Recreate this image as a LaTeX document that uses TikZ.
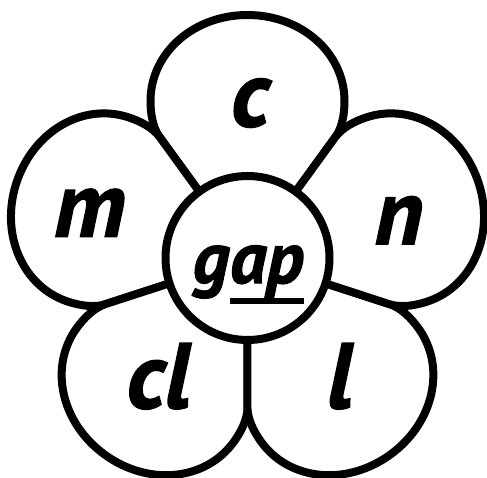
\documentclass[tikz,border=0pt]{standalone}
\usepackage{fontspec}
\setmainfont{PT Sans}[BoldItalicFeatures={FakeBold=1.6}]
\usetikzlibrary{positioning}

\begin{document}
\begin{tikzpicture}[x=1pt, y=1pt,
    petal/.style={draw=black, fill=white, line width=8pt, line join=round},
    hub/.style={circle, draw=black, fill=white, line width=8pt, minimum size=164pt, inner sep=0pt},
    letter/.style={inner sep=0pt, font=\fontsize{93}{93}\selectfont\bfseries\itshape},
    word/.style={inner sep=0pt, font=\fontsize{73}{73}\selectfont\bfseries\itshape},
    uline/.style={line width=6pt}]
    \useasboundingbox (0,0) rectangle (487,477);
    \begin{scope}[shift={(247.5,219)}]
        % petals, one every 72 degrees
        \foreach \ang in {90, 162, 234, 306, 18}{
            \begin{scope}[rotate=\ang-90]
                \draw[petal] (0,0) -- (88,121) .. controls (95,131) and (97,145) .. (97,157)
                    .. controls (97,205) and (54,243) .. (0,243)
                    .. controls (-54,243) and (-97,205) .. (-97,157)
                    .. controls (-97,145) and (-95,131) .. (-88,121) -- cycle;
            \end{scope}
        }
        \foreach \ang/\rad/\txt in {89/155/c, 164/164/m, 14/156/n, -127/148/cl, -52/150/l}{
            \node[letter] (L\txt) at (\ang:\rad) {\txt};
        }
        \node[hub] (hub) at (0,0) {};
        \node[word, anchor=base west] (g) at (-55,-25) {g};
        \node[word, anchor=base west] (ap) at (g.base east) {ap};
        \draw[uline] ([yshift=-18pt]ap.base west) -- ([yshift=-18pt]ap.base east);
    \end{scope}
\end{tikzpicture}
\end{document}
